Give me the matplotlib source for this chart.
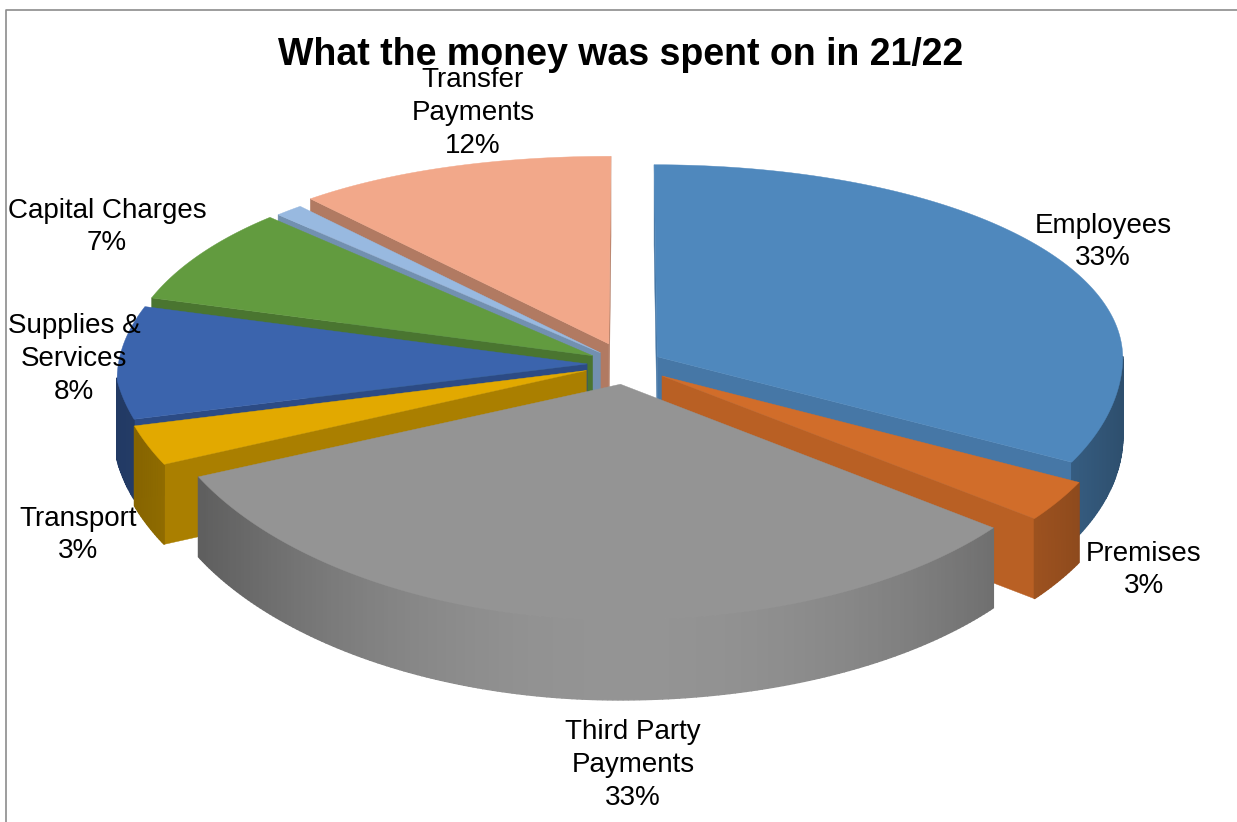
import numpy as np
import matplotlib
matplotlib.use("Agg")
import matplotlib.pyplot as plt
from matplotlib.colors import to_rgb

plt.rcParams['font.family'] = ['Liberation Sans', 'DejaVu Sans']

names = ['Employees', 'Premises', 'Third Party\nPayments', 'Transport', 'Supplies &\nServices',
         'Capital Charges', '', 'Transfer\nPayments']
values = [33, 3, 33, 3, 8, 7, 1, 12]

top_colors = ['#4F88BD', '#D16D2A', '#949494', '#E2A900', '#3B64AD', '#629B3F', '#98B9E0', '#F2A88A']
cut_colors = ['#4677A6', '#B96024', '#808080', '#AA7F00', '#2C4B85', '#4A7530', '#7290B0', '#B17A62']
explode = [0.075, 0.09, 0.09, 0.09, 0.085, 0.085, 0.08, 0.105]

# back slices first so the front ones paint over them
draw_order = [7, 6, 5, 4, 3, 0, 1, 2]

label_pos = [(1103, 242), (1144, 570), (633, 765), (78, 535), (74, 359), (107, 227), None, (473, 113)]

CX, CY = 627, 365
RADIUS = 470
TILT = 0.46
DEPTH = 80


def project(u, v, drop=0.0):
    # nearer parts of the disc are drawn larger, the far side smaller
    p = 1 - 0.1 * v * v if v > 0 else 1 + 0.07 * v * v
    x = CX + RADIUS * u * p
    y = CY - RADIUS * TILT * v * p + drop
    # slight skew of the view
    if u < 0:
        y += u * u * (13 - 15 * max(v, 0))
        if v < 0:
            x += 50 * u * v
    else:
        x -= 4 * u * u
    return x, y


def point(t, off, r=1.0, drop=0.0):
    return project(off[0] + r * np.sin(t), off[1] + r * np.cos(t), drop)


def rim_shade(color, u):
    return tuple(c * (1 - 0.42 * u ** 2) for c in to_rgb(color))


fig = plt.figure(figsize=(12.37, 8.22), dpi=100)
ax = fig.add_axes([0, 0, 1, 1])
ax.set_xlim(0, 1237)
ax.set_ylim(822, 0)
ax.axis('off')

# chart frame
ax.plot([1237, 5.5, 5.5], [10.5, 10.5, 822], color='#8c8c8c', lw=1.2)

edges = np.cumsum([0] + values) / sum(values) * 2 * np.pi

for i in draw_order:
    t0, t1 = edges[i], edges[i + 1]
    mid = (t0 + t1) / 2
    off = (explode[i] * np.sin(mid), explode[i] * np.cos(mid))
    apex = project(*off)
    ts = np.linspace(t0, t1, max(int((t1 - t0) * 90), 6))
    rim = [point(t, off) for t in ts]

    # cut faces: only the one whose slice lies above it on screen can be seen
    inner = point(mid, off, 0.5)
    for t in (t0, t1):
        outer = point(t, off)
        if abs(outer[0] - apex[0]) < 1:
            continue
        line_y = apex[1] + (outer[1] - apex[1]) * (inner[0] - apex[0]) / (outer[0] - apex[0])
        if inner[1] < line_y:
            ax.fill([apex[0], outer[0], outer[0], apex[0]],
                    [apex[1], outer[1], outer[1] + DEPTH, apex[1] + DEPTH],
                    color=cut_colors[i], lw=0.3)

    # outer wall, split into strips for the shading across it
    for a, b in zip(ts[:-1], ts[1:]):
        if np.cos((a + b) / 2) > 0:
            continue
        pa, pb = point(a, off), point(b, off)
        ax.fill([pa[0], pb[0], pb[0], pa[0]],
                [pa[1], pb[1], pb[1] + DEPTH, pa[1] + DEPTH],
                color=rim_shade(top_colors[i], np.sin((a + b) / 2)), lw=1.0)

    xs, ys = zip(*([apex] + rim))
    ax.fill(xs, ys, color=top_colors[i], lw=0.3)

ax.text(621, 55, 'What the money was spent on in 21/22', ha='center', va='center',
        fontsize=27, fontweight='bold', color='black', zorder=10)

for name, value, pos in zip(names, values, label_pos):
    if pos is None:
        continue
    ax.text(pos[0], pos[1], f'{name}\n{value}%', ha='center', va='center',
            fontsize=20, color='black', linespacing=1.34, zorder=10)

fig.savefig('out.png', dpi=100, facecolor='white')
